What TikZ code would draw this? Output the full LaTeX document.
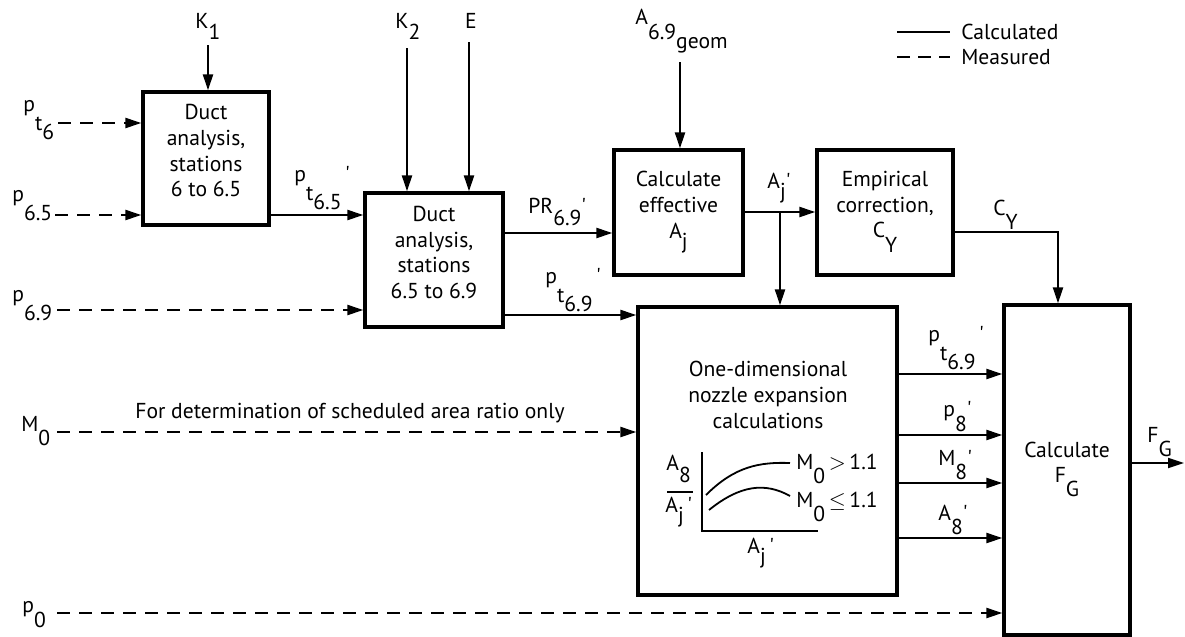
\documentclass[tikz,border=0pt]{standalone}
\usepackage{fontspec}
\setmainfont{PT Sans}[Ligatures=TeXOff]
\usetikzlibrary{arrows.meta,fit}
\newcommand\lo[2][1.3ex]{\raisebox{-#1}[\height][0pt]{#2}}
\begin{document}
\begin{tikzpicture}[x=0.5pt,y=-0.5pt,
  font=\fontsize{10.8}{12.8}\selectfont,
  box/.style={draw, line width=1.6pt, inner sep=0pt, align=center},
  calc/.style={line width=1pt, -{Triangle[length=8pt,width=5pt]}},
  meas/.style={calc, dash pattern=on 6.5pt off 4.5pt},
  lbl/.style={inner sep=0pt, anchor=base west},
  thin/.style={line width=0.9pt}]
\useasboundingbox (0,0) rectangle (1185,637);

% boxes
\node[box, fit={(143,92)(269,225)}] (b1) {Duct\\analysis,\\stations\\6 to 6.5};
\node[box, fit={(365,193)(503,327)}] (b2) {Duct\\analysis,\\stations\\6.5 to 6.9};
\node[box, fit={(614,150)(743,275)}] (b3) {Calculate\\effective\\A\lo[1ex]{j}};
\node[box, fit={(817,150)(953,275)}] (b5) {Empirical\\correction,\\C\lo{Y}};
\node[box, fit={(638,307)(897,595)}] (b4) {};
\node[box, fit={(1004,305)(1130,635)}] (b6) {Calculate\\F\lo{G}};
\node[inner sep=0pt, align=center] (b4t) at (768,395) {One-dimensional\\nozzle expansion\\calculations};

% legend
\coordinate (la1) at (897,32); \coordinate (lb1) at (950,32);
\coordinate (la2) at (897,57); \coordinate (lb2) at (950,57);
\draw[thin] (la1) -- (lb1);
\draw[thin, dash pattern=on 6.5pt off 4pt] (la2) -- (lb2);
\node[inner sep=0pt, anchor=west] (lt1) at (961,32) {Calculated};
\node[inner sep=0pt, anchor=west] (lt2) at (961,57) {Measured};

% top inputs
\node[lbl] (k1) at (195,28) {K\lo[1.1ex]{1}};
\coordinate (k1s) at (208,45);
\draw[calc] (k1s) -- (k1s |- b1.north);
\node[lbl] (k2) at (395,28) {K\lo[1.1ex]{2}};
\coordinate (k2s) at (407,48);
\draw[calc] (k2s) -- (k2s |- b2.north);
\node[inner sep=0pt, anchor=base] (e) at (471,28) {E};
\coordinate (es) at (469,42);
\draw[calc] (es) -- (es |- b2.north);
\node[lbl] (ag) at (635,25) {A\lo[1.3ex]{6.9\lo[0.9ex]{geom}}};
\coordinate (ags) at (680,62);
\draw[calc] (ags) -- (ags |- b3.north);

% left measured inputs
\node[lbl] (lpt6) at (23,111) {p\lo[1.8ex]{t\lo[0.8ex]{6}}};
\coordinate (spt6) at (58,123);
\draw[meas] (spt6) -- (b1.west |- spt6);
\node[lbl] (lp65) at (12,201) {p\lo[1.8ex]{6.5}};
\coordinate (sp65) at (55,215);
\draw[meas] (sp65) -- (b1.west |- sp65);
\node[lbl] (lp69) at (12,301) {p\lo[1.8ex]{6.9}};
\coordinate (sp69) at (57,310);
\draw[meas] (sp69) -- (b2.west |- sp69);
\node[lbl] (lm0) at (21,431) {M\lo[1.3ex]{0}};
\coordinate (sm0) at (57,432);
\draw[meas] (sm0) -- (b4.west |- sm0);
\node[inner sep=0pt] (fd) at (350,413) {For determination of scheduled area ratio only};
\node[lbl] (lp0) at (22,612) {p\lo[1.4ex]{0}};
\coordinate (sp0) at (57,613);
\draw[meas] (sp0) -- (b6.west |- sp0);

% calculated connectors
\coordinate (y215) at (0,215);
\draw[calc] (b1.east |- y215) -- (b2.west |- y215);
\node[lbl] (lpt65) at (294,181) {p\lo[1.8ex]{t\lo[0.8ex]{6.5}}\,'};

\coordinate (y233) at (0,233);
\draw[calc] (b2.east |- y233) -- (b3.west |- y233);
\node[lbl] (lpr) at (528,213) {PR\lo[1.2ex]{6.9}'};

\coordinate (y315) at (0,315);
\draw[calc] (b2.east |- y315) -- (b4.west |- y315);
\node[lbl] (lpt69a) at (545,283) {p\lo[1.8ex]{t\lo[0.8ex]{6.9}}\,'};

\coordinate (y212) at (0,212);
\draw[calc] (b3.east |- y212) -- (b5.west |- y212);
\node[lbl] (laj) at (767,188) {A\lo[1ex]{j}'};
\coordinate (jn) at (780,212);
\draw[calc] (jn) -- (jn |- b4.north);

\coordinate (cy) at (1058,232);
\draw[calc] (b5.east |- cy) -- (cy) -- (cy |- b6.north);
\node[lbl] (lcy) at (993,215) {C\lo{Y}};

% outputs of nozzle box
\coordinate (o1) at (0,374); \coordinate (o2) at (0,435);
\coordinate (o3) at (0,483); \coordinate (o4) at (0,538);
\draw[calc] (b4.east |- o1) -- (b6.west |- o1);
\draw[calc] (b4.east |- o2) -- (b6.west |- o2);
\draw[calc] (b4.east |- o3) -- (b6.west |- o3);
\draw[calc] (b4.east |- o4) -- (b6.west |- o4);
\node[lbl] (lo1) at (928,341) {p\lo[1.8ex]{t\lo[0.8ex]{6.9}}\,'};
\node[lbl] (lo2) at (943,416) {p\lo[1.4ex]{8}'};
\node[lbl] (lo3) at (938,465) {M\lo{8}'};
\node[lbl] (lo4) at (938,520) {A\lo{8}'};

% final output
\coordinate (fg) at (1184,463);
\draw[calc] (b6.east |- fg) -- (fg);
\node[lbl] (lfg) at (1147,442) {F\lo{G}};

% inner graph
\draw[thin] (702,452) -- (702,531) -- (818,531);
\draw[thin] (706,495) .. controls (735,466) and (760,462) .. (790,463);
\draw[thin] (709,510) .. controls (740,485) and (765,482) .. (790,496);
\node[lbl] (gm1) at (796,469) {M\lo{0}\,$>$\,1.1};
\node[lbl] (gm2) at (796,507) {M\lo{0}\,$\leq$\,1.1};
\node[lbl] (fnum) at (666,470) {A\lo[1.2ex]{8}};
\draw[thin] (667,492) -- (693,492);
\node[lbl] (fden) at (665,512) {A\lo[1ex]{j}\,'};
\node[lbl] (gx) at (747,553) {A\lo[1ex]{j}\,'};
\end{tikzpicture}
\end{document}
